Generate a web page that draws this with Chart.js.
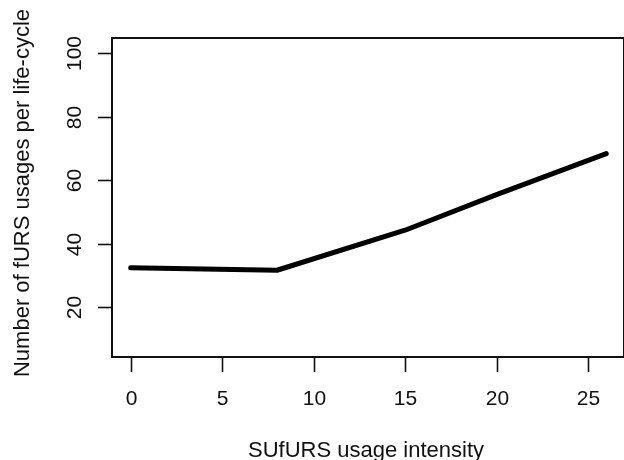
<!DOCTYPE html>
<html>
<head>
<meta charset="utf-8">
<script src="https://cdn.jsdelivr.net/npm/chart.js@4"></script>
<style>
  html, body { margin: 0; padding: 0; background: #fff; overflow: hidden; }
  #wrap { width: 624px; height: 460px; position: relative; }
</style>
</head>
<body>
<div id="wrap"><canvas id="usageChart"></canvas></div>
<script>
// data
const intensity = [0, 8, 15, 20, 26];
const usagesPerLifeCycle = [32.5, 31.7, 44.3, 55.5, 68.4];

const xTicks = [0, 5, 10, 15, 20, 25];
const yTicks = [20, 40, 60, 80, 100];

const xTitle = "SUfURS usage intensity";
const yTitle = "Number of fURS usages per life-cycle";

const TICK_FONT = "21px 'Liberation Sans', Arial, sans-serif";
const TITLE_FONT = "22px 'Liberation Sans', Arial, sans-serif";
const INK = "#111";

// R-style box, ticks and labels, placed by the chart's own scales
const baseAxes = {
  id: "baseAxes",
  afterDraw(chart) {
    const ctx = chart.ctx;
    const a = chart.chartArea;
    const xs = chart.scales.x;
    const ys = chart.scales.y;
    ctx.save();
    ctx.strokeStyle = INK;
    ctx.lineWidth = 2;
    ctx.strokeRect(a.left, a.top, a.right - a.left, a.bottom - a.top);

    ctx.fillStyle = INK;
    ctx.font = TICK_FONT;
    ctx.lineWidth = 1.6;

    // x ticks
    ctx.textAlign = "center";
    ctx.textBaseline = "alphabetic";
    xTicks.forEach(v => {
      const px = Math.round(xs.getPixelForValue(v)) + 0.5;
      ctx.beginPath();
      ctx.moveTo(px, a.bottom);
      ctx.lineTo(px, a.bottom + 15);
      ctx.stroke();
      ctx.fillText(String(v), px, 405);
    });

    // y ticks (labels turned like R's default)
    yTicks.forEach(v => {
      const py = Math.round(ys.getPixelForValue(v)) + 0.5;
      ctx.beginPath();
      ctx.moveTo(a.left, py);
      ctx.lineTo(a.left - 14, py);
      ctx.stroke();
      ctx.save();
      ctx.translate(81, py);
      ctx.rotate(-Math.PI / 2);
      ctx.fillText(String(v), 0, 0);
      ctx.restore();
    });

    // titles
    ctx.font = TITLE_FONT;
    ctx.fillText(xTitle, 366, 457);
    ctx.save();
    ctx.translate(29, 193);
    ctx.rotate(-Math.PI / 2);
    ctx.fillText(yTitle, 0, 0);
    ctx.restore();

    ctx.restore();
  }
};

new Chart(document.getElementById("usageChart"), {
  type: "line",
  data: {
    datasets: [{
      data: intensity.map((x, i) => ({ x: x, y: usagesPerLifeCycle[i] })),
      borderColor: "#000",
      borderWidth: 5,
      borderCapStyle: "round",
      borderJoinStyle: "round",
      pointRadius: 0,
      tension: 0,
      fill: false
    }]
  },
  options: {
    responsive: true,
    maintainAspectRatio: false,
    animation: false,
    layout: { padding: { left: 112, top: 38, right: 0, bottom: 103 } },
    plugins: {
      legend: { display: false },
      tooltip: { enabled: false }
    },
    scales: {
      x: { type: "linear", min: -1.02, max: 26.97, display: false },
      y: { type: "linear", min: 4.4, max: 104.8, display: false }
    }
  },
  plugins: [baseAxes]
});
</script>
</body>
</html>
